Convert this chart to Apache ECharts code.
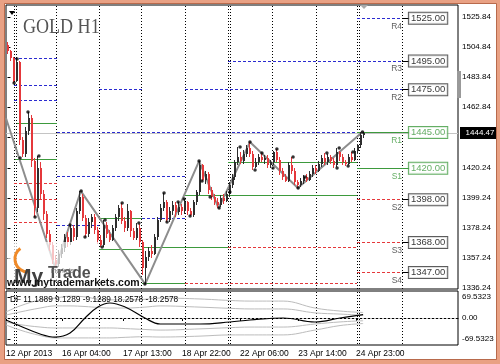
<!DOCTYPE html>
<html><head><meta charset="utf-8">
<script src="https://cdn.jsdelivr.net/npm/echarts@6/dist/echarts.min.js"></script>
<style>html,body{margin:0;padding:0;background:#fff}#c{width:500px;height:364px}</style>
</head><body><div id="c"></div>
<script>
// ---------- data ----------
const opens = [
 1506,1502,1497,1481,1494,1440,1430,1446,1455,1425,
 1392,1420,1402,1388,1374,1366,1356,1353,1360,1364,
 1372,1368,1378,1372,1390,1400,1385,1374,1382,1386,
 1377,1370,1366,1380,1374,1370,1378,1386,1392,1383,
 1378,1390,1376,1371,1378,1368,1350,1358,1362,1360,
 1372,1384,1392,1396,1384,1390,1394,1389,1393,1390,
 1396,1390,1387,1396,1403,1422,1412,1416,1405,1400,
 1396,1394,1399,1397,1402,1408,1414,1424,1428,1425,
 1430,1434,1430,1421,1424,1428,1426,1427,1422,1424,
 1431,1426,1418,1414,1411,1422,1418,1410,1408,1411,
 1414,1412,1416,1420,1418,1423,1427,1424,1428,1425,
 1422,1431,1428,1424,1423,1428,1426,1432,1436,1443];
const closes = [
 1502,1497,1481,1494,1440,1430,1446,1455,1425,1392,
 1420,1402,1388,1374,1366,1356,1353,1360,1364,1372,
 1368,1378,1372,1390,1400,1385,1374,1382,1386,1377,
 1370,1366,1380,1374,1370,1378,1386,1392,1383,1378,
 1390,1376,1371,1378,1368,1350,1358,1362,1360,1372,
 1384,1392,1396,1384,1390,1394,1389,1393,1390,1396,
 1390,1387,1396,1403,1422,1412,1416,1405,1400,1396,
 1394,1399,1397,1402,1408,1414,1424,1428,1425,1430,
 1434,1430,1421,1424,1428,1426,1427,1422,1424,1431,
 1426,1418,1414,1411,1422,1418,1410,1408,1411,1414,
 1412,1416,1420,1418,1423,1427,1424,1428,1425,1422,
 1431,1428,1424,1423,1428,1426,1432,1436,1443,1444.47];
const lows = [
 1500,1495,1479.6,1480,1436,1428,1428,1443,1421,1385.8,
 1389,1398,1384,1371,1362,1353,1350,1351,1357,1361,
 1365,1366,1369,1370,1388,1383,1371.8,1372,1378,1374,
 1367,1364.8,1365,1371,1368,1369,1376,1383,1381,1375,
 1376,1372,1369.7,1370,1365,1345,1338.9,1355,1357,1359,
 1370,1382,1390,1382.3,1382,1387,1386,1387,1387,1388,
 1387,1386.5,1386,1394,1401,1411,1409,1402,1398,1394,
 1392.1,1393,1395,1396,1400,1406,1412,1422,1423,1423,
 1428,1428,1418.7,1420,1422,1424,1423,1420,1420.1,1422,
 1424,1415,1412,1410.3,1410,1416,1408,1406.1,1407,1409,
 1410,1411,1414,1416,1417,1421,1422,1422,1423,1420.1,
 1421,1425,1422,1421.5,1422,1424,1425,1430,1434,1441];
const highs = [
 1508,1503,1498,1496.4,1495,1442,1449,1459.3,1457,1427,
 1428.5,1424,1405,1390,1377,1368,1359,1363,1367,1374,
 1375,1380,1380,1392,1404,1402,1387,1385,1388,1388,
 1379,1373,1383.7,1382,1377,1380,1388,1394,1395.6,1386,
 1395,1391,1378,1381.6,1381,1370,1362,1365,1366,1374,
 1386,1395,1402.6,1398,1393,1397,1396,1396.3,1395,1398.4,
 1397,1392,1398,1404.7,1425,1423,1418,1417,1407,1402,
 1399,1401,1402,1404,1410,1416,1426,1434.8,1431,1433,
 1436,1438.3,1432,1427,1430,1430.6,1429,1429,1426,1432,
 1433.4,1428,1420,1416,1424,1427.8,1420,1412,1413,1415,
 1416,1418,1422.2,1422,1425,1429,1430.6,1430,1429,1427,
 1434.1,1432,1430,1426,1430,1431.3,1434,1437,1445.3,1445];
const totalSlots = 151;                       // bars + empty shift area
const priceTicks = [1525.84,1504.84,1483.84,1462.84,1441.84,1420.24,1399.24,1378.24,1357.24,1336.24];
const dfTicks = [69.5323, 0, -69.5323];
const timeLabels = ['12 Apr 2013','16 Apr 04:00','17 Apr 13:00','18 Apr 22:00','22 Apr 06:00','23 Apr 14:00','24 Apr 23:00'];
const timeLabelAt = [-0.5, 18.2, 38.6, 58.3, 77.7, 97.1, 116.4];
const daySeparators = [2.2, 16.5, 30.6, 44.9, 59.3, 73.7, 88.4, 103.1, 116.8, 131.8];
const weekSeparators = [2.2, 73.7, 116.8];
const pivotNames = ['R4','R3','R2','R1','S1','S2','S3','S4'];
const pivotLevels = [1525, 1495, 1475, 1445, 1420, 1398, 1368, 1347];
const bidPrice = 1444.47;
// [price, fromBar, toBar]
const resistanceSegs = [
 [1497.1,2.2,16.5],[1478.2,2.2,16.5],[1467.7,2.2,16.5],[1445,16.5,116.8],
 [1414.5,16.5,59.3],[1380.2,16.5,30.6],[1475,30.6,44.9],[1385.1,44.9,59.3],
 [1475,59.3,131.8],[1495,73.7,131.8],[1525,116.8,131.8]];
const pivotSegs = [
 [1451.6,3.2,16.5],[1426.4,2.5,16.5],[1385.1,30.6,44.9],[1363.3,30.6,44.9],
 [1364.8,44.9,73.7],[1339.6,44.9,59.3],[1401.2,59.3,116.8],[1424.3,73.7,116.8],
 [1445,116.8,131.8],[1420,116.8,131.8]];
const supportSegs = [
 [1409.6,2.2,16.5],[1398.4,2.2,16.5],[1382.3,2.2,16.5],[1339.6,59.3,116.8],
 [1364.8,73.7,116.8],[1398,116.8,131.8],[1368,116.8,131.8],[1347,116.8,131.8]];
const zigzagX = [-0.5, 16, 24.5, 46, 64, 70.5, 81, 97, 118.6];
const zigzagP = [1455, 1350, 1404, 1338.9, 1425, 1392.1, 1438.3, 1406.1, 1445.3];
const fractalX = [2.2,3.2,4.2,6.85,9.2,10.5,20.9,24.6,25.9,31.6,32.6,38.3,43.9,45.9,52.3,53.3,57,59,61,64,65,67.7,70.7,74.3,77.7,81,82.7,85,88.7,90,95.4,97.1,99.4,106.7,110.1,110.8,113.8,115.4,118.6];
const fractalP = [1479.6,1496.4,1427.1,1459.3,1385.8,1428.5,1380.2,1404,1371.8,1364.8,1383.7,1395.6,1381.6,1338.9,1402.6,1382.3,1396.3,1398.4,1386.5,1425,1411,1399.8,1392.1,1403.3,1434.8,1438.3,1418.7,1430.6,1420.1,1433.4,1427.8,1406.1,1413.8,1430.6,1420.1,1434.1,1421.5,1431.3,1445.3];
const dfX    = [-0.5, 4.2, 10.9, 15.9, 20.9, 25.9, 30.2, 34.2, 39.3, 45.9, 51, 64.3, 74.3, 81, 92.1, 102.7, 111.1, 118.8];
const dfMain = [-6.6, -26.5, -53, -63, -49.7, 0, 36.4, 49.7, 36.4, 0, -19.9, -19.9, -13.2, -6.6, 0, -13.2, 0, 11.19];
const dfUp2  = [19.9, 40, 60, 66, 72, 70, 62, 60, 60, 62, 66, 63, 58, 56, 56, 33, 23, 18.26];
const dfUp1  = [9.9, 20, 33, 40, 40, 38, 35, 33, 33, 36, 40, 36, 32, 30, 30, 17, 13, 9.13];
const dfLo1  = [-13, -22, -30, -33, -33, -33, -33, -33, -35, -38, -40, -36, -32, -30, -30, -20, -13, -9.13];
const dfLo2  = [-23, -40, -58, -66, -66, -66, -66, -66, -64, -62, -63, -60, -56, -56, -56, -40, -25, -18.26];

// ---------- chart ----------
const priceMin = 1335.44, priceMax = 1534.24, dfMin = -89.4, dfMax = 89.4;
const FONT = 'Liberation Sans';
const slots = Array.from({length: totalSlots}, (_, i) => String(i));
const green = '#3d9a3d', blue = '#2b2bd0', red = '#e5383b', bull = '#2e2e2e';
const isGreen = n => n === 'R1' || n === 'S1';

// crisp horizontal level segments
function segSeries(segs, color, dash, xAxisIndex, yAxisIndex, z) {
  return {type: 'custom', xAxisIndex, yAxisIndex, z, silent: true, data: segs,
    encode: {x: [1, 2], y: 0},
    renderItem: (params, api) => {
      const a = api.coord([api.value(1), api.value(0)]);
      const b = api.coord([api.value(2), api.value(0)]);
      const y = Math.round(a[1] - 0.5) + 0.5;
      const s = segs[params.dataIndex];
      return {type: 'line', shape: {x1: Math.round(a[0]), y1: y, x2: Math.round(b[0]), y2: y},
        style: {stroke: s[3] || color, lineWidth: 1, lineDash: dash}};
    }};
}
// crisp vertical day separators (week starts drawn doubled)
function sepSeries(xAxisIndex, yAxisIndex, yRef) {
  return {type: 'custom', xAxisIndex, yAxisIndex, z: 1, silent: true,
    data: daySeparators.map(v => [v, yRef]), encode: {x: 0, y: 1},
    renderItem: (params, api) => {
      const cs = params.coordSys;
      const v = api.value(0);
      const x = Math.round(api.coord([v, api.value(1)])[0] - 0.5) + 0.5;
      const mk = xx => ({type: 'line', shape: {x1: xx, y1: cs.y + 1, x2: xx, y2: cs.y + cs.height},
        style: {stroke: '#000', lineWidth: 1, lineDash: [1, 2]}});
      const kids = [mk(x)];
      if (weekSeparators.indexOf(v) >= 0) kids.push(mk(x + 2));
      return {type: 'group', children: kids};
    }};
}

const chart = echarts.init(document.getElementById('c'), null, {renderer: 'canvas'});
chart.setOption({
  animation: false,
  backgroundColor: '#fff',
  grid: [
    {left: 6, top: 5, width: 452, height: 284, show: true, borderColor: '#000', borderWidth: 1, backgroundColor: 'transparent'},
    {left: 6, top: 291, width: 452, height: 54, show: true, borderColor: '#000', borderWidth: 1, backgroundColor: 'transparent'}
  ],
  xAxis: [
    {type: 'category', gridIndex: 0, data: slots, show: false, boundaryGap: true},
    {type: 'value', gridIndex: 0, min: -0.5, max: totalSlots - 0.5, show: false},
    {type: 'value', gridIndex: 1, min: -0.5, max: totalSlots - 0.5, position: 'bottom',
     splitLine: {show: false}, axisLine: {show: true, lineStyle: {color: '#000'}},
     axisTick: {show: true, length: 3, inside: false, customValues: timeLabelAt, lineStyle: {color: '#000'}},
     axisLabel: {show: true, customValues: timeLabelAt, align: 'left', margin: 4, fontSize: 8.5, fontFamily: FONT, color: '#000',
       formatter: v => { const k = timeLabelAt.findIndex(t => Math.abs(t - v) < 0.01); return k >= 0 ? timeLabels[k] : ''; }}}
  ],
  yAxis: [
    {type: 'value', gridIndex: 0, position: 'right', min: priceMin, max: priceMax,
     splitLine: {show: false}, axisLine: {show: false},
     axisTick: {show: true, length: 3, customValues: priceTicks, lineStyle: {color: '#000'}},
     axisLabel: {show: true, customValues: priceTicks, margin: 4, fontSize: 8, fontFamily: FONT, color: '#000', formatter: v => v.toFixed(2)}},
    {type: 'value', gridIndex: 1, position: 'right', min: dfMin, max: dfMax,
     splitLine: {show: false}, axisLine: {show: false},
     axisTick: {show: true, length: 3, customValues: dfTicks, lineStyle: {color: '#000'}},
     axisLabel: {show: true, customValues: dfTicks, margin: 4, fontSize: 8, fontFamily: FONT, color: '#000', formatter: v => v === 0 ? '0.00' : v.toFixed(4)}}
  ],
  series: [
    sepSeries(1, 0, 1400),
    segSeries([[bidPrice, -0.5, totalSlots - 0.5]], '#c4c4c4', null, 1, 0, 1),
    segSeries(resistanceSegs, blue, [3, 2], 1, 0, 2),
    segSeries(pivotSegs, green, null, 1, 0, 2),
    segSeries(supportSegs, red, [3, 2], 1, 0, 2),
    segSeries(pivotLevels.map((p, i) => [p, 131.8, 134.3, isGreen(pivotNames[i]) ? green : '#000']), '#000', null, 1, 0, 2),
    {type: 'line', xAxisIndex: 1, yAxisIndex: 0, z: 3, silent: true, symbol: 'none',
     lineStyle: {color: '#8d8d8d', width: 2}, data: zigzagX.map((x, i) => [x, zigzagP[i]])},
    {type: 'custom', xAxisIndex: 0, yAxisIndex: 0, z: 4, silent: true,
     data: opens.map((o, i) => [i, o, closes[i], lows[i], highs[i]]), encode: {x: 0, y: [1, 2, 3, 4]},
     renderItem: (params, api) => {
       const i = api.value(0), o = api.value(1), c = api.value(2), l = api.value(3), h = api.value(4);
       const x = Math.round(api.coord([i, o])[0] - 0.5);
       const yO = Math.round(api.coord([i, o])[1]), yC = Math.round(api.coord([i, c])[1]);
       const yH = Math.round(api.coord([i, h])[1]), yL = Math.round(api.coord([i, l])[1]);
       const col = c >= o ? bull : red;
       return {type: 'group', children: [
         {type: 'rect', shape: {x: x, y: yH, width: 1, height: Math.max(1, yL - yH)}, style: {fill: col}},
         {type: 'rect', shape: {x: x, y: Math.min(yO, yC), width: 2, height: Math.max(1, Math.abs(yO - yC))}, style: {fill: col}}
       ]};
     }},
    {type: 'scatter', xAxisIndex: 1, yAxisIndex: 0, z: 5, silent: true, symbol: 'circle', symbolSize: 3.5,
     itemStyle: {color: '#000'}, data: fractalX.map((x, i) => [x, fractalP[i]])},
    {type: 'scatter', xAxisIndex: 1, yAxisIndex: 0, z: 6, silent: true, symbolSize: 1,
     itemStyle: {color: 'transparent'},
     data: pivotLevels.map((p, i) => ({value: [140.5, p], label: {color: isGreen(pivotNames[i]) ? green : '#000', borderColor: isGreen(pivotNames[i]) ? green : '#333'}})),
     label: {show: true, position: 'inside', formatter: d => d.value[1].toFixed(2), fontSize: 9.5, fontFamily: FONT,
       backgroundColor: '#fff', borderWidth: 1, padding: [1, 2, 0, 2]}},
    {type: 'scatter', xAxisIndex: 1, yAxisIndex: 0, z: 6, silent: true, symbolSize: 1,
     itemStyle: {color: 'transparent'},
     data: pivotLevels.map((p, i) => ({value: [131.8, p], name: pivotNames[i], label: {color: isGreen(pivotNames[i]) ? green : '#333'}})),
     label: {show: true, position: 'inside', align: 'right', offset: [0, 8], formatter: d => d.name, fontSize: 8.5, fontFamily: FONT}},
    // DF sub-window
    sepSeries(2, 1, 0),
    segSeries([[0, -0.5, totalSlots - 0.5]], '#bdbdbd', [2, 2], 2, 1, 1),
    ...[dfUp2, dfUp1, dfLo1, dfLo2].map(arr => ({type: 'line', xAxisIndex: 2, yAxisIndex: 1, z: 2, silent: true, symbol: 'none', smooth: 0.4,
      lineStyle: {color: '#bcbcbc', width: 1}, data: dfX.map((x, i) => [x, arr[i]])})),
    {type: 'line', xAxisIndex: 2, yAxisIndex: 1, z: 3, silent: true, symbol: 'none', smooth: 0.4,
     lineStyle: {color: '#000', width: 1.2}, data: dfX.map((x, i) => [x, dfMain[i]])}
  ]
});

const bidY = chart.convertToPixel({yAxisIndex: 0}, bidPrice);
const frame = '#e9a184';
chart.setOption({graphic: [
  {type: 'rect', shape: {x: 0, y: 0, width: 500, height: 4}, style: {fill: frame}, z: 100},
  {type: 'rect', shape: {x: 0, y: 359, width: 500, height: 5}, style: {fill: frame}, z: 100},
  {type: 'rect', shape: {x: 0, y: 0, width: 5, height: 364}, style: {fill: frame}, z: 100},
  {type: 'rect', shape: {x: 496, y: 0, width: 4, height: 364}, style: {fill: frame}, z: 100},
  {type: 'rect', shape: {x: 4.5, y: 3.5, width: 492, height: 356}, style: {fill: null, stroke: '#b86a4c', lineWidth: 1}, z: 100},
  {type: 'text', x: 23, y: 16, scaleX: 0.82, style: {text: 'GOLD H1', fill: '#555', font: '22px "Liberation Serif"'}, z: 50},
  {type: 'polygon', shape: {points: [[9, 11], [15, 11], [12, 15]]}, style: {fill: '#000'}, z: 50},
  {type: 'polygon', shape: {points: [[360, 5], [368, 5], [364, 9]]}, style: {fill: '#aaa'}, z: 50},
  {type: 'rect', shape: {x: 457, y: 71, width: 4, height: 27}, style: {fill: '#999'}, z: 50},
  {type: 'rect', shape: {x: 460, y: Math.round(bidY) - 6, width: 40, height: 12}, style: {fill: '#000'}, z: 60},
  {type: 'text', x: 480, y: Math.round(bidY), style: {text: bidPrice.toFixed(2), fill: '#fff', font: '8px "Liberation Sans"', align: 'center', verticalAlign: 'middle'}, z: 61},
  // logo
  {type: 'rect', shape: {x: 8, y: 242, width: 90, height: 38}, style: {fill: 'rgba(255,255,255,0.7)'}, z: 40},
  {type: 'arc', shape: {cx: 28, cy: 259, r: 13, startAngle: Math.PI * 0.45, endAngle: Math.PI * 1.3, clockwise: true}, style: {stroke: '#f08a28', lineWidth: 3, fill: null}, z: 41},
  {type: 'text', x: 14, y: 267, style: {text: 'My', fill: '#404040', font: 'bold 21px "Liberation Sans"', verticalAlign: 'alphabetic'}, z: 42},
  {type: 'text', x: 48, y: 266, style: {text: 'Trade', fill: '#505050', font: 'bold 16px "Liberation Sans"', verticalAlign: 'alphabetic'}, z: 42},
  {type: 'text', x: 51, y: 271, style: {text: 'markets', fill: '#777', font: '6.5px "Liberation Sans"', verticalAlign: 'middle'}, z: 42},
  {type: 'text', x: 7, y: 283, style: {text: 'www.mytrademarkets.com', fill: '#111', font: 'bold 10.5px "Liberation Sans"', verticalAlign: 'middle'}, z: 42},
  {type: 'text', x: 10, y: 300, style: {text: 'DF 11.1889 9.1289 -9.1289 18.2578 -18.2578', fill: '#000', font: '8.3px "Liberation Sans"', verticalAlign: 'middle'}, z: 42}
]});
</script></body></html>
